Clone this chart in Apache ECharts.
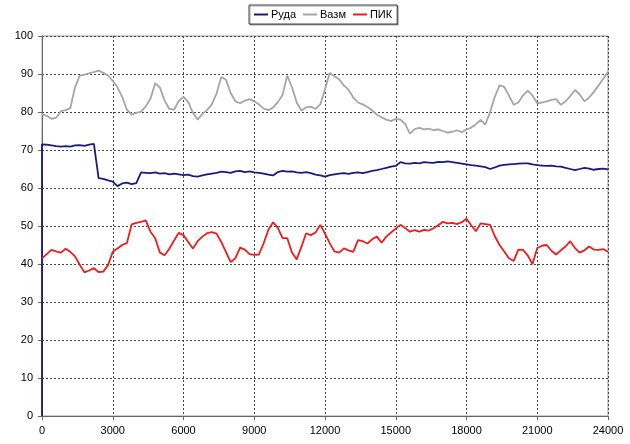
<!DOCTYPE html>
<html>
<head>
<meta charset="utf-8">
<script src="https://cdn.jsdelivr.net/npm/echarts@6/dist/echarts.min.js"></script>
<style>
  html, body { margin: 0; padding: 0; background: #fff; }
  #chart { width: 630px; height: 444px; }
</style>
</head>
<body>
<div id="chart"></div>
<script>
// Sample positions: every 200 units from 0 to 24000
const STEP = 200;
const X_MAX = 24000;

// Series names
const names = ['Руда', 'Вазм', 'ПИК'];

// Руда starts from zero at x = 0
const rudaStart = 0;
const ruda = [
  71.5, 71.4, 71.2, 71.0, 70.9, 71.0, 70.9, 71.2, 71.3, 71.1,
  71.4, 71.6, 62.6, 62.4, 62.0, 61.7, 60.5, 61.2, 61.4, 61.0,
  61.3, 64.1, 64.0, 63.9, 64.1, 63.8, 63.9, 63.6, 63.8, 63.6,
  63.4, 63.5, 63.1, 63.0, 63.3, 63.6, 63.8, 64.0, 64.3, 64.2,
  64.0, 64.4, 64.5, 64.2, 64.4, 64.1, 64.0, 63.8, 63.5, 63.3,
  64.2, 64.5, 64.3, 64.4, 64.1, 64.0, 64.2, 63.9, 63.5, 63.3,
  63.0, 63.4, 63.6, 63.8, 63.9, 63.7, 64.0, 64.1, 63.9, 64.2,
  64.5, 64.7, 65.0, 65.3, 65.6, 65.8, 66.8, 66.5, 66.4, 66.6,
  66.5, 66.8, 66.7, 66.6, 66.9, 66.8, 67.0, 66.8, 66.6, 66.4,
  66.2, 66.0, 65.9, 65.7, 65.5, 65.0, 65.4, 65.9, 66.1, 66.2,
  66.3, 66.4, 66.5, 66.5, 66.2, 66.0, 65.9, 65.8, 65.9, 65.7,
  65.6, 65.3, 65.0, 64.7, 65.0, 65.3, 65.1, 64.8, 65.0, 65.1,
  64.9
];

const vazm = [
  79.5, 79.0, 78.2, 78.5, 80.2, 80.5, 81.0, 86.5, 89.6, 89.8,
  90.2, 90.5, 90.9, 90.3, 89.6, 88.2, 86.5, 84.0, 80.6, 79.3,
  79.8, 80.1, 81.5, 83.5, 87.6, 86.4, 83.0, 80.8, 80.6, 82.9,
  84.0, 82.6, 79.8, 78.0, 79.5, 80.5, 82.0, 84.8, 89.2, 88.5,
  85.0, 82.8, 82.3, 83.0, 83.4, 82.8, 82.0, 80.9, 80.5, 81.2,
  82.6, 84.5, 89.6, 86.5, 82.5, 80.4, 81.2, 81.4, 80.8, 82.0,
  86.0, 90.3, 89.4, 88.6, 87.0, 85.8, 83.8, 82.5, 82.0, 81.3,
  80.4, 79.3, 78.6, 78.0, 77.6, 78.2, 78.0, 76.8, 74.3, 75.5,
  75.8, 75.4, 75.6, 75.2, 75.4, 75.0, 74.6, 74.8, 75.2, 74.7,
  75.4, 75.9, 76.8, 77.9, 76.7, 80.0, 84.0, 87.0, 86.6, 84.3,
  81.9, 82.5, 84.4, 85.6, 84.3, 82.3, 82.5, 82.8, 83.2, 83.4,
  81.9, 82.8, 84.2, 85.8, 84.6, 82.8, 83.8, 85.3, 87.0, 88.8,
  90.6
];

const pik = [
  41.5, 42.6, 43.7, 43.3, 43.0, 44.0, 43.2, 42.0, 39.8, 37.8,
  38.3, 38.9, 37.9, 38.0, 39.7, 43.2, 44.1, 45.0, 45.5, 50.4,
  50.8, 51.1, 51.5, 48.5, 46.8, 43.0, 42.3, 44.0, 46.2, 48.2,
  47.6, 45.8, 44.1, 46.0, 47.2, 48.1, 48.4, 48.0, 45.8, 43.2,
  40.5, 41.5, 44.3, 43.8, 42.6, 42.4, 42.5, 45.5, 49.0, 51.0,
  49.5, 46.8, 46.8, 43.0, 41.2, 44.5, 48.1, 47.6, 48.3, 50.3,
  48.0, 45.5, 43.3, 43.0, 44.1, 43.6, 43.2, 46.3, 46.0, 45.4,
  46.5, 47.2, 45.6, 47.2, 48.3, 49.3, 50.3, 49.5, 48.5, 48.9,
  48.5, 49.0, 48.8, 49.4, 50.2, 51.1, 50.7, 50.8, 50.5, 51.0,
  51.9, 50.2, 48.6, 50.7, 50.5, 50.3, 47.3, 45.0, 43.3, 41.5,
  40.8, 43.8, 43.7, 42.2, 40.0, 44.2, 44.8, 45.0, 43.5, 42.5,
  43.6, 44.6, 46.0, 44.2, 43.0, 43.6, 44.6, 43.8, 43.7, 43.9,
  43.2
];

const colors = ['#1a1a80', '#a6a6a6', '#ee1c1c'];

const pairs = (vals) => vals.map((v, i) => [i * STEP, v]);

const chart = echarts.init(document.getElementById('chart'), null, { renderer: 'canvas' });

const axisFont = { fontFamily: 'Liberation Sans, Arial, sans-serif', fontSize: 11, color: '#000' };
const dotted = { show: true, lineStyle: { color: '#444', type: [2, 2], width: 1 } };

chart.setOption({
  animation: false,
  backgroundColor: '#fff',
  grid: {
    left: 42, right: 22, top: 36, bottom: 28,
    show: true, borderColor: '#9a9a9a', borderWidth: 1, backgroundColor: 'transparent'
  },
  legend: {
    top: 5,
    left: 249,
    data: names,
    icon: 'rect',
    itemWidth: 14,
    itemHeight: 2,
    itemGap: 7,
    padding: [4, 5, 4, 5],
    borderColor: '#444',
    borderWidth: 1,
    shadowColor: 'rgba(0,0,0,0.35)',
    shadowOffsetX: 1,
    shadowOffsetY: 1,
    backgroundColor: '#fff',
    textStyle: { fontFamily: 'Liberation Sans, Arial, sans-serif', fontSize: 11, color: '#000', padding: [0, 0, 0, -2] }
  },
  xAxis: {
    type: 'value',
    min: 0, max: X_MAX, interval: 3000,
    axisLine: { show: true, lineStyle: { color: '#666', width: 1 } },
    axisTick: { show: true, length: 4, inside: false, lineStyle: { color: '#666' } },
    axisLabel: Object.assign({ margin: 9, formatter: (v) => String(v) }, axisFont),
    splitLine: dotted
  },
  yAxis: {
    type: 'value',
    min: 0, max: 100, interval: 10,
    axisLine: { show: true, lineStyle: { color: '#666', width: 1 } },
    axisTick: { show: true, length: 4, inside: false, lineStyle: { color: '#666' } },
    axisLabel: Object.assign({ margin: 9, formatter: (v) => String(v) }, axisFont),
    splitLine: dotted
  },
  series: [
    {
      name: names[0], type: 'line', showSymbol: false, symbol: 'none',
      data: [[0, rudaStart]].concat(pairs(ruda)),
      lineStyle: { color: colors[0], width: 1.8 }, itemStyle: { color: colors[0] }, z: 3
    },
    {
      name: names[1], type: 'line', showSymbol: false, symbol: 'none',
      data: pairs(vazm),
      lineStyle: { color: colors[1], width: 1.8 }, itemStyle: { color: colors[1] }, z: 2
    },
    {
      name: names[2], type: 'line', showSymbol: false, symbol: 'none',
      data: pairs(pik),
      lineStyle: { color: colors[2], width: 1.8 }, itemStyle: { color: colors[2] }, z: 4
    }
  ]
});
</script>
</body>
</html>
